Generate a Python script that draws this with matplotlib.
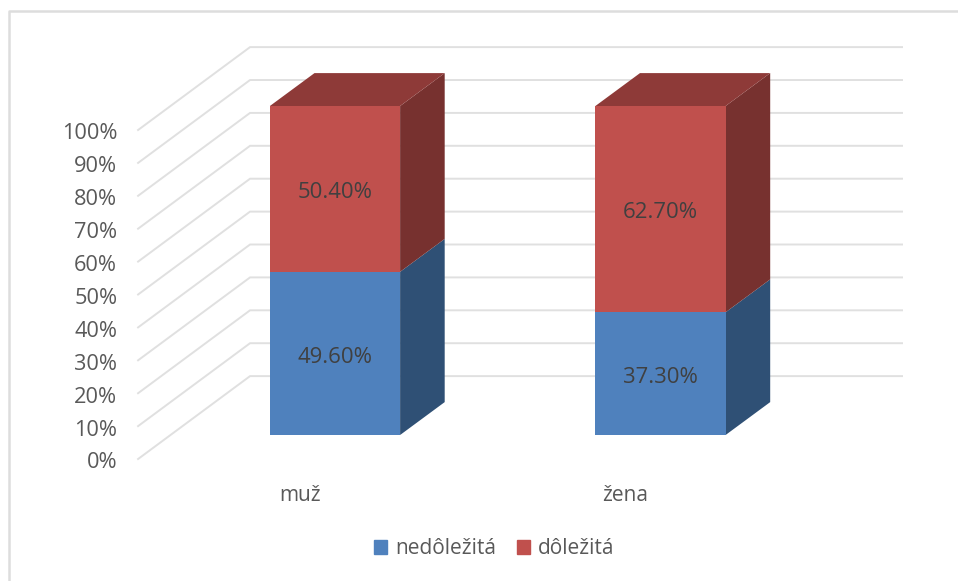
import matplotlib.pyplot as plt
from matplotlib.patches import Patch

plt.rcParams['font.family'] = ['Open Sans', 'DejaVu Sans']

categories = ['muž', 'žena']
series_names = ['nedôležitá', 'dôležitá']
nedolezita = [49.6, 37.3]
dolezita = [50.4, 62.7]
ticks = [0, 10, 20, 30, 40, 50, 60, 70, 80, 90, 100]

front_colors = ['#4F81BD', '#C0504D']
side_colors = ['#2F5075', '#77312F']
top_color = '#8E3A38'
text_color = '#595959'
grid_color = '#E0E0E0'

bar_width = 0.4
# 3d look: how far the back of a bar is shifted from its front
depth_x, depth_y = 0.137, 10.0
# floor of the chart, relative to the bars' front plane
wall_left, wall_back, wall_right = -0.605, -0.261, 1.742
floor_front, floor_back = -7.3, 17.9

fig = plt.figure(figsize=(9.58, 5.81), dpi=100)
ax = fig.add_axes([0, 0, 1, 1])
ax.set_xlim(-335 / 325.5, (958 - 335) / 325.5)
ax.set_ylim(-(581 - 435) / 3.29, 435 / 3.29)
ax.axis('off')


def gridlines():
    for t in ticks:
        ax.plot([wall_left, wall_back, wall_right],
                [t + floor_front, t + floor_back, t + floor_back],
                color=grid_color, lw=1.4, zorder=1, solid_joinstyle='miter')
        ax.text(wall_left - 0.064, t + floor_front - 1.2, '{}%'.format(t), ha='right', va='center',
                fontsize=15.7, color=text_color)


def stacked_bar(pos, values):
    left = pos - bar_width / 2
    right = pos + bar_width / 2
    bottom = 0
    for value, front, side in zip(values, front_colors, side_colors):
        top = bottom + value
        ax.bar(pos, value, bar_width, bottom=bottom, color=front, zorder=3)
        ax.fill([right, right + depth_x, right + depth_x, right],
                [bottom, bottom + depth_y, top + depth_y, top], color=side, lw=0, zorder=2)
        ax.text(pos, bottom + value / 2 - 1.1, '{:.2f}%'.format(value), ha='center', va='center',
                fontsize=15.9, color='#404040', zorder=4)
        bottom = top
    ax.fill([left, left + depth_x, right + depth_x, right],
            [bottom, bottom + depth_y, bottom + depth_y, bottom], color=top_color, lw=0, zorder=2)


gridlines()
for i, cat in enumerate(categories):
    stacked_bar(i, [nedolezita[i], dolezita[i]])
    ax.text(i - 0.108, -18.3, cat, ha='center', va='center', fontsize=15, color=text_color)

# chart frame, only the top and left edges show in the picture
fig.add_artist(plt.Line2D([9 / 958, 9 / 958, 1], [0, 1 - 11 / 581, 1 - 11 / 581],
                          color='#DDDDDD', lw=1.8))

handles = [Patch(color=c) for c in front_colors]
fig.legend(handles, series_names, loc='center', bbox_to_anchor=(494 / 958, 1 - 549 / 581), ncol=2,
           frameon=False, fontsize=15, labelcolor=text_color, handlelength=0.62, handleheight=0.62,
           handletextpad=0.4, columnspacing=1.0)

fig.savefig('out.png', dpi=100)
